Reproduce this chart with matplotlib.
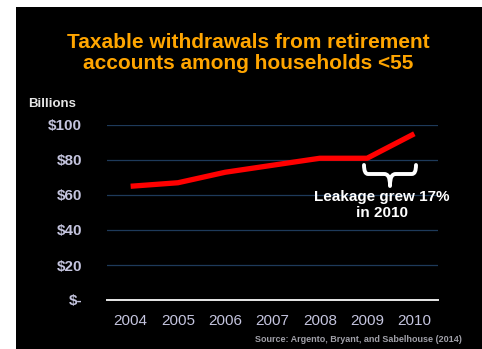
import matplotlib
matplotlib.use('Agg')
import matplotlib.pyplot as plt
from matplotlib.patches import Rectangle, PathPatch
from matplotlib.path import Path

ORANGE = '#FFA500'
RED = '#FF0000'
TICK = '#C4C4DE'
GRID = '#1E3A5A'

years = ['2004', '2005', '2006', '2007', '2008', '2009', '2010']
withdrawals = [65, 67, 73, 77, 81, 81, 95]
y_ticks = [0, 20, 40, 60, 80, 100]
y_labels = ['$-', '$20', '$40', '$60', '$80', '$100']

plt.rcParams.update({
    'font.family': ['Liberation Sans', 'DejaVu Sans'],
})

fig = plt.figure(figsize=(4.82, 3.49), dpi=100)
fig.patch.set_facecolor('white')
fig.patches.append(Rectangle((16 / 482, 0), 1, 1 - 7 / 349, transform=fig.transFigure,
                             facecolor='black', edgecolor='none', zorder=-10))

ax = fig.add_axes([107 / 482, 1 - 300 / 349, 331 / 482, 175 / 349])
ax.set_facecolor('black')
x = range(len(years))
ax.plot(x, withdrawals, color=RED, linewidth=3.8, solid_capstyle='butt',
        solid_joinstyle='round', clip_on=False, zorder=3)
ax.set_xlim(-0.5, len(years) - 0.5)
ax.set_ylim(0, 100)
ax.set_xticks(list(x))
ax.set_xticklabels(years, fontsize=11, color=TICK)
ax.set_yticks(y_ticks)
ax.set_yticklabels(y_labels, fontsize=11, color=TICK, fontweight='bold')
ax.tick_params(length=0, pad=10)
ax.tick_params(axis='y', pad=18)
for s in ['top', 'right', 'left']:
    ax.spines[s].set_visible(False)
ax.spines['bottom'].set_color('#E8E8E8')
ax.spines['bottom'].set_linewidth(1.4)
ax.grid(axis='y', color=GRID, linewidth=0.9, zorder=0)
ax.set_axisbelow(True)

# title and labels
fig.text(248 / 482, 1 - 53 / 349, 'Taxable withdrawals from retirement\naccounts among households <55',
         ha='center', va='center', fontsize=15, fontweight='bold', color=ORANGE,
         linespacing=1.15)
fig.text(28 / 482, 1 - 104 / 349, 'Billions', ha='left', va='center', fontsize=9.5,
         fontweight='bold', color='#E6E6E6')

# brace annotation
bx0, bx1, btop, btip = 364, 416, 165, 186
bm = (bx0 + bx1) / 2
verts_px = [
    (bx0, btop), (bx0, btop + 9), (bx0 + 4, btop + 9), (bm - 6, btop + 9),
    (bm - 2, btop + 9), (bm, btop + 12), (bm, btip),
    (bm, btop + 12), (bm + 2, btop + 9), (bm + 6, btop + 9),
    (bx1 - 4, btop + 9), (bx1, btop + 9), (bx1, btop),
]
codes = [Path.MOVETO, Path.CURVE3, Path.CURVE3, Path.LINETO,
         Path.CURVE4, Path.CURVE4, Path.CURVE4,
         Path.CURVE4, Path.CURVE4, Path.CURVE4,
         Path.LINETO, Path.CURVE3, Path.CURVE3]
verts = [(px / 482, 1 - py / 349) for px, py in verts_px]
brace = PathPatch(Path(verts, codes), transform=fig.transFigure, facecolor='none',
                  edgecolor='white', linewidth=2.8, capstyle='round', joinstyle='round')
fig.patches.append(brace)

fig.text(382 / 482, 1 - 205 / 349, 'Leakage grew 17%\nin 2010', ha='center', va='center',
         fontsize=11, fontweight='bold', color='white', linespacing=1.15)

fig.text(462 / 482, 1 - 339 / 349, 'Source: Argento, Bryant, and Sabelhouse (2014)',
         ha='right', va='center', fontsize=6.5, fontweight='bold', color='#A0A0A8')

fig.savefig('out.png', dpi=100, facecolor='white')
